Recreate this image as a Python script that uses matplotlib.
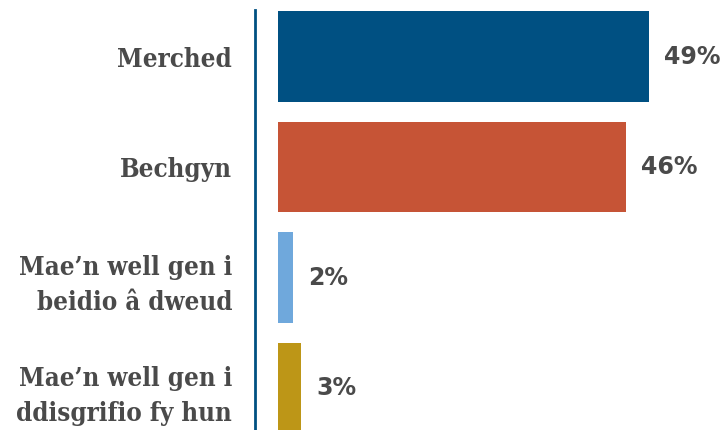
import matplotlib.pyplot as plt

# Data
categories = ["Merched", "Bechgyn", "Mae\u2019n well gen i\nbeidio \u00e2 dweud", "Mae\u2019n well gen i\nddisgrifio fy hun"]
values = [49, 46, 2, 3]
labels = ["49%", "46%", "2%", "3%"]
colors = ["#005082", "#C65436", "#6FA8DC", "#BD9617"]

text_color = "#4a4a4a"

fig = plt.figure(figsize=(7.2, 4.3), dpi=100)
ax = fig.add_axes([255 / 720, 0, 465 / 720, 1])

pos = list(range(len(categories)))
ax.barh(pos, values, height=0.82, color=colors)

ax.set_xlim(-3.04, 58.4)
ax.set_ylim(3.377, -0.511)

for p, v, lab in zip(pos, values, labels):
    ax.annotate(lab, (v, p), xytext=(11, 0), textcoords="offset points",
                ha="left", va="center", fontsize=17, fontweight="bold",
                family="DejaVu Sans", color=text_color)

ax.set_yticks(pos)
ax.set_yticklabels(categories, fontsize=18.5, fontweight="bold",
                   family="DejaVu Serif", fontstretch="condensed",
                   color=text_color, linespacing=1.5)
ax.tick_params(axis="y", length=0, pad=16.5)
ax.set_xticks([])

for s in ["top", "right", "bottom"]:
    ax.spines[s].set_visible(False)
ax.spines["left"].set_color("#005082")
ax.spines["left"].set_linewidth(2)
ax.spines["left"].set_bounds(3.377, -0.42)

fig.savefig("out.png", dpi=100)
